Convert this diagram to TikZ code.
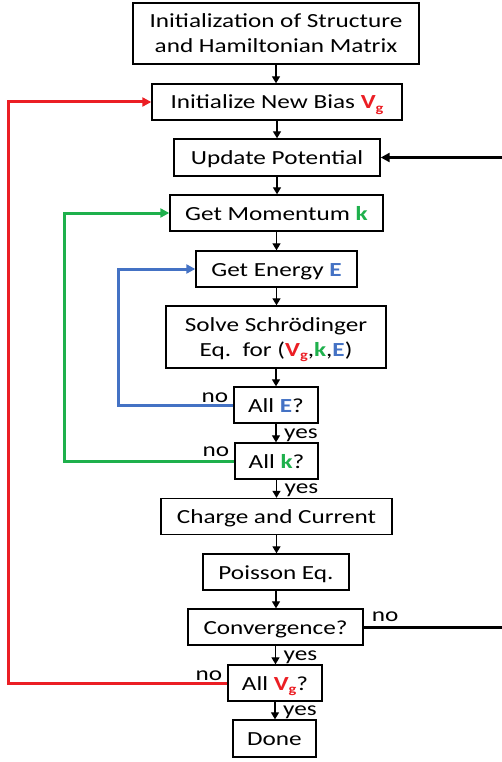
\documentclass[tikz,border=0pt]{standalone}
\usepackage{fontspec}
\setmainfont{Carlito}[FakeStretch=1.26]
\usetikzlibrary{arrows.meta}
\definecolor{vred}{RGB}{235,30,36}
\definecolor{kgreen}{RGB}{30,176,76}
\definecolor{eblue}{RGB}{68,114,196}
\newcommand{\Vsym}{{\color{vred}\bfseries V\raisebox{-0.35ex}{\fontsize{13}{13}\selectfont g}}}
\newcommand{\ksym}{{\color{kgreen}\bfseries k}}
\newcommand{\Esym}{{\color{eblue}\bfseries E}}
\newcommand{\twolines}[2]{\begin{tabular}[t]{@{}c@{}}#1\\#2\end{tabular}}
\begin{document}
\begin{tikzpicture}[x=1pt,y=-1pt,
  font=\fontsize{20}{25}\selectfont,
  box/.style={draw, line width=1.4pt, inner sep=0pt, text height=18pt, text depth=4pt},
  tallbox/.style={box, text height=18pt, text depth=29pt},
  flow/.style={line width=1.3pt, -{Triangle[length=7pt,width=8pt]}},
  back/.style={line width=3pt, -{Triangle[length=9pt,width=9pt]}},
  lbl/.style={inner sep=0pt}]
\useasboundingbox (0,0) rectangle (501,762);

% process boxes
\node[tallbox, minimum width=286pt, minimum height=61pt] (init) at (276,33.5) {\twolines{Initialization of Structure}{and Hamiltonian Matrix}};
\node[box, minimum width=250pt, minimum height=36pt] (bias) at (277,102) {Initialize New Bias \Vsym};
\node[box, minimum width=206pt, minimum height=37pt] (upd) at (277,157.5) {Update Potential};
\node[box, minimum width=213pt, minimum height=36pt] (mom) at (276.5,213) {Get Momentum \ksym};
\node[box, minimum width=161pt, minimum height=36pt] (ene) at (276.5,269) {Get Energy \Esym};
\node[tallbox, minimum width=220pt, minimum height=62pt] (sch) at (276,337) {\twolines{Solve Schrödinger}{Eq.\ \ for (\Vsym,\ksym,\Esym)}};
\node[box, minimum width=84pt, minimum height=36pt] (alle) at (276,405) {All \Esym?};
\node[box, minimum width=83pt, minimum height=36pt] (allk) at (276.5,461) {All \ksym?};
\node[box, minimum width=231pt, minimum height=36pt] (chg) at (276.5,516.5) {Charge and Current};
\node[box, minimum width=146pt, minimum height=36pt] (poi) at (276,572) {Poisson Eq.};
\node[box, minimum width=175pt, minimum height=36pt] (conv) at (275.5,627) {Convergence?};
\node[box, minimum width=94pt, minimum height=36pt] (allv) at (275,683) {All \Vsym?};
\node[box, minimum width=83pt, minimum height=37pt] (done) at (274.5,738.5) {Done};

% main downward flow
\foreach \a/\b in {init/bias, bias/upd, upd/mom, mom/ene, ene/sch, sch/alle, alle/allk, allk/chg, chg/poi, poi/conv, conv/allv, allv/done}
  \draw[flow] (\a.south) -- (\a.south |- \b.north);

% loop rails
\coordinate (railV) at (8,0);
\coordinate (railK) at (64,0);
\coordinate (railE) at (118,0);
\coordinate (railC) at (504,0);

\draw[back, vred] (allv.west) -- (allv.west -| railV) |- (bias.west);
\draw[back, kgreen] (allk.west) -- (allk.west -| railK) |- (mom.west);
\draw[back, eblue] (alle.west) -- (alle.west -| railE) |- (ene.west);
\draw[back, black] (conv.east) -- (conv.east -| railC) |- (upd.east);

% branch labels
\node[lbl, anchor=base east] at ([xshift=-5pt,yshift=3pt]alle.west) {no};
\node[lbl, anchor=base east] at ([xshift=-5pt,yshift=5pt]allk.west) {no};
\node[lbl, anchor=base east] at ([xshift=-5pt,yshift=3pt]allv.west) {no};
\node[lbl, anchor=base west] at ([xshift=8pt,yshift=6pt]conv.east) {no};
\node[lbl, anchor=base west] at ([xshift=8pt,yshift=-15pt]alle.south) {yes};
\node[lbl, anchor=base west] at ([xshift=8pt,yshift=-14pt]allk.south) {yes};
\node[lbl, anchor=base west] at ([xshift=8pt,yshift=-15pt]conv.south) {yes};
\node[lbl, anchor=base west] at ([xshift=8pt,yshift=-14pt]allv.south) {yes};
\end{tikzpicture}
\end{document}
